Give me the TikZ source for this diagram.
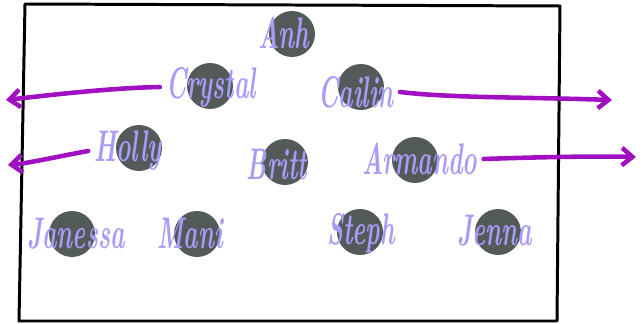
\documentclass[tikz,border=0pt]{standalone}
\usetikzlibrary{arrows.meta}
\definecolor{seat}{HTML}{525B5A}
\definecolor{ink}{HTML}{A99CF8}
\definecolor{move}{HTML}{A111C2}
\newcommand{\tall}[1]{\scalebox{1}[1.8]{#1}}
\begin{document}
\begin{tikzpicture}[x=0.02cm, y=-0.02cm, >={Straight Barb[length=6pt,width=10pt]}, line join=round, line cap=round,
  person/.style={circle, fill=seat, minimum size=0.92cm, inner sep=0pt},
  nametag/.style={text=ink, font=\fontsize{14}{16}\selectfont\bfseries\itshape},
  leave/.style={->, draw=move, line width=2.6pt}]
\useasboundingbox (0,0) rectangle (643,324);
\draw[line width=1.7pt] (25,4)--(560,6)--(557,321)--(19,321)--cycle;
% seats
\node[person] (anh) at (292,34) {};
\node[person] (crystal) at (210,86) {};
\node[person] (cailin) at (361,87) {};
\node[person] (holly) at (139,148) {};
\node[person] (britt) at (285,162) {};
\node[person] (armando) at (415,160) {};
\node[person] (janessa) at (72,234) {};
\node[person] (mani) at (197,234) {};
\node[person] (steph) at (360,232) {};
\node[person] (jenna) at (498,232) {};
% names
\node[nametag] (anh-name) at (284,33) {\tall{Anh}};
\node[nametag] (crystal-name) at (211,87) {\tall{Crystal}};
\node[nametag] (cailin-name) at (356,92) {\tall{Cailin}};
\node[nametag] (holly-name) at (128,151) {\tall{Holly}};
\node[nametag] (britt-name) at (277,164) {\tall{Britt}};
\node[nametag] (armando-name) at (420,159) {\tall{Armando}};
\node[nametag] (janessa-name) at (76,234) {\tall{Janessa}};
\node[nametag] (mani-name) at (190,233) {\tall{Mani}};
\node[nametag] (steph-name) at (361,233) {\tall{Steph}};
\node[nametag] (jenna-name) at (495,231) {\tall{Jenna}};
% moving out
\coordinate (crystal-exit) at (6,100);
\coordinate (holly-exit) at (8,165);
\coordinate (cailin-exit) at (612,100);
\coordinate (armando-exit) at (636,157);
\draw[leave] (crystal-name.west) .. controls (110,88) and (50,95) .. (crystal-exit);
\draw[leave] (holly-name.west) .. controls (60,156) and (30,163) .. (holly-exit);
\draw[leave] (cailin-name.east) .. controls (450,98) and (520,97) .. (cailin-exit);
\draw[leave] (armando-name.east) .. controls (540,157) and (600,156) .. (armando-exit);
\end{tikzpicture}
\end{document}
